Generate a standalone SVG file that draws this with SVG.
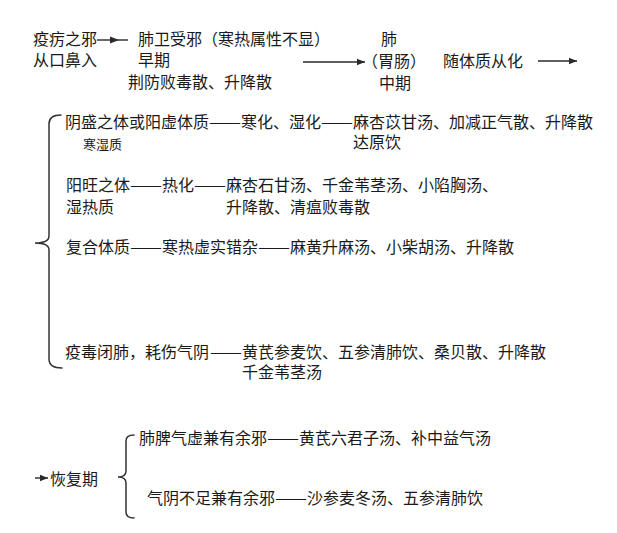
<svg xmlns="http://www.w3.org/2000/svg" width="617" height="533" viewBox="0 0 617 533">
<defs>
<style>
text{font-family:"Noto Sans CJK SC","Noto Sans CJK TC",sans-serif;font-size:16px;fill:#1a1a1a}
.s{font-size:13px}
.ln{stroke:#2a2a2a;stroke-width:1.4;fill:none}
.br{stroke:#333;stroke-width:1.5;fill:none;stroke-linecap:round}
</style>
<marker id="ah" viewBox="0 0 10 10" refX="10" refY="5" markerWidth="8" markerHeight="8" markerUnits="userSpaceOnUse" orient="auto">
<path d="M0,1 L10,5 L0,9 Z" fill="#2a2a2a"/>
</marker>
</defs>
<rect width="617" height="533" fill="#ffffff"/>

<g id="connectors">
<line class="ln" x1="97" y1="40" x2="128" y2="40"/>
<path d="M110,36.5 L119,40 L110,43.5 Z" fill="#2a2a2a"/>
<line class="ln" x1="303" y1="62" x2="365" y2="62" marker-end="url(#ah)"/>
<line class="ln" x1="538" y1="61" x2="577" y2="61" marker-end="url(#ah)"/>
<line class="ln" x1="35" y1="478" x2="48" y2="478" marker-end="url(#ah)"/>
<path class="br" d="M61,115 Q49,115 49,124 L49,236 Q49,243 35,243 Q49,243 49,250 L49,359 Q49,368 62,368"/>
<path class="br" d="M134,435 Q126,435 126,441 L126,471 Q126,477 118,477 Q126,477 126,483 L126,512 Q126,518 134,518"/>
</g>

<g id="early">
<text x="33" y="45">疫疠之邪</text>
<text x="33" y="66">从口鼻入</text>
<text x="138" y="45">肺卫受邪（寒热属性不显）</text>
<text x="138" y="66">早期</text>
<text x="128" y="88">荆防败毒散、升降散</text>
</g>

<g id="middle">
<text x="381" y="45">肺</text>
<text x="362" y="67">（胃肠）</text>
<text x="379" y="89">中期</text>
<text x="443" y="67">随体质从化</text>
</g>

<g id="branch-cold">
<text x="65" y="128">阴盛之体或阳虚体质</text>
<text x="209" y="128" textLength="32" lengthAdjust="spacingAndGlyphs">——</text>
<text x="241" y="128">寒化、湿化</text>
<text x="321" y="128" textLength="32" lengthAdjust="spacingAndGlyphs">——</text>
<text x="353" y="128">麻杏苡甘汤、加减正气散、升降散</text>
<text class="s" x="83" y="149">寒湿质</text>
<text x="353" y="148">达原饮</text>
</g>

<g id="branch-heat">
<text x="66" y="191">阳旺之体</text>
<text x="130" y="191" textLength="32" lengthAdjust="spacingAndGlyphs">——</text>
<text x="162" y="191">热化</text>
<text x="194" y="191" textLength="32" lengthAdjust="spacingAndGlyphs">——</text>
<text x="226" y="191">麻杏石甘汤、千金苇茎汤、小陷胸汤、</text>
<text x="66" y="213">湿热质</text>
<text x="226" y="213">升降散、清瘟败毒散</text>
</g>

<g id="branch-mixed">
<text x="66" y="253">复合体质</text>
<text x="130" y="253" textLength="32" lengthAdjust="spacingAndGlyphs">——</text>
<text x="162" y="253">寒热虚实错杂</text>
<text x="258" y="253" textLength="32" lengthAdjust="spacingAndGlyphs">——</text>
<text x="290" y="253">麻黄升麻汤、小柴胡汤、升降散</text>
</g>

<g id="branch-lung">
<text x="65" y="358">疫毒闭肺，耗伤气阴</text>
<text x="210" y="358" textLength="32" lengthAdjust="spacingAndGlyphs">——</text>
<text x="242" y="358">黄芪参麦饮、五参清肺饮、桑贝散、升降散</text>
<text x="242" y="378">千金苇茎汤</text>
</g>

<g id="recovery">
<text x="50" y="485">恢复期</text>
<text x="139" y="444">肺脾气虚兼有余邪</text>
<text x="267" y="444" textLength="32" lengthAdjust="spacingAndGlyphs">——</text>
<text x="299" y="444">黄芪六君子汤、补中益气汤</text>
<text x="147" y="504">气阴不足兼有余邪</text>
<text x="275" y="504" textLength="32" lengthAdjust="spacingAndGlyphs">——</text>
<text x="307" y="504">沙参麦冬汤、五参清肺饮</text>
</g>
</svg>
